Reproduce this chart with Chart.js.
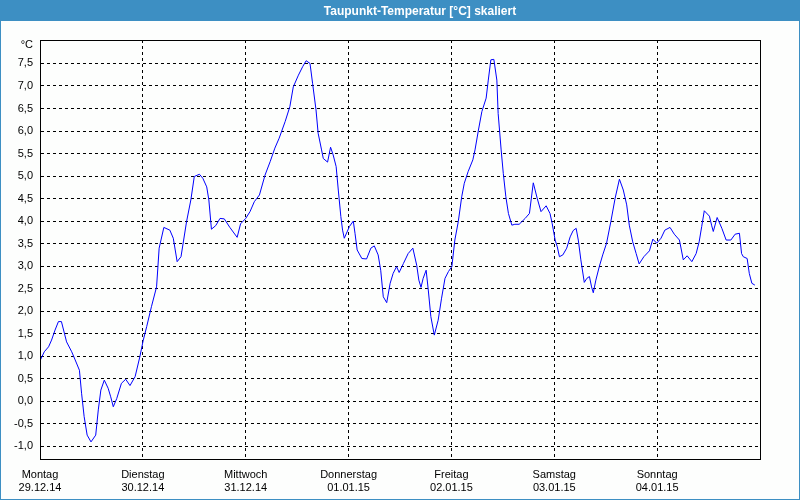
<!DOCTYPE html>
<html><head><meta charset="utf-8">
<script src="https://cdn.jsdelivr.net/npm/chart.js@4/dist/chart.umd.min.js"></script>
<style>html,body{margin:0;padding:0;background:#fff}#wrap{width:800px;height:500px}</style>
</head><body><div id="wrap"><canvas id="c" width="800" height="500"></canvas></div>
<script>
const chartTitle = 'Taupunkt-Temperatur [°C] skaliert';
const unitLabel = '°C';
const dayNames = ['Montag','Dienstag','Mittwoch','Donnerstag','Freitag','Samstag','Sonntag'];
const dayDates = ['29.12.14','30.12.14','31.12.14','01.01.15','02.01.15','03.01.15','04.01.15'];
const yTickValues = [-1,-0.5,0,0.5,1,1.5,2,2.5,3,3.5,4,4.5,5,5.5,6,6.5,7,7.5];
const dayTickHours = [0,24,48,72,96,120,144,168];

// hours since Monday 29.12.14 00:00
const hours = [
  0,1,2,2.7,3.5,4.3,5,6.2,7.4,8.2,9.2,9.7,10.3,11,11.9,13,13.6,14.2,15,15.9,16.5,17.1,17.9,19,20,21,22.2,23.3,
  24.1,24.9,26,27.2,27.8,28.9,30.3,31.1,32,32.9,34.2,35.2,36,37.2,38,38.9,39.4,40,41,42,43,44.3,46,46.8,
  48,49,50,51.2,52.5,53.7,54.8,55.8,57.2,58.3,59.1,60.3,61.3,62.1,63,63.6,64.4,64.9,65.7,66.1,67.1,67.8,68.4,69.1,69.6,70.2,70.6,71,
  72.2,73.1,73.5,74,75.1,76.2,77.2,78,78.9,79.5,80.1,80.9,81.7,82.4,83.2,83.8,84.8,85.9,87,87.9,88.4,88.9,89.4,90.1,90.6,91.2,92,92.9,93.7,94.5,95.3,
  96.1,96.8,97.6,98.4,99,99.9,101,101.5,102.3,103.1,104.1,104.6,105.2,105.9,106.6,106.9,107.6,108.1,108.7,109.3,110.1,110.8,111.8,113.2,114.2,115.1,116,116.9,118.1,119,119.5,
  120.2,120.7,121.2,122,122.9,123.7,124.4,125.1,125.6,126.2,127,127.6,128.2,128.7,129.1,129.7,130.5,131.3,132.2,133.2,134.2,135.2,136.1,136.9,137.5,138.3,139.1,139.8,140.9,142.2,143,143.9,
  144.9,145.8,147,148,149.2,150.1,151,152.1,153.1,153.8,154.4,155,156.2,156.7,157.1,158,159.1,160.1,161.2,162.2,163.2,163.7,164.1,165,165.5,166.1,166.8
];
const dewPoint = [
  0.9,1.1,1.21,1.36,1.58,1.77,1.77,1.32,1.1,0.92,0.69,0.18,-0.34,-0.75,-0.9,-0.75,-0.19,0.25,0.47,0.29,0.1,-0.12,0.06,0.4,0.49,0.35,0.55,0.99,
  1.36,1.66,2.1,2.54,3.4,3.86,3.8,3.62,3.1,3.21,3.99,4.47,4.99,5.04,4.95,4.76,4.47,3.82,3.9,4.06,4.05,3.86,3.64,3.94,
  4.06,4.21,4.43,4.58,5.02,5.32,5.62,5.84,6.21,6.54,6.98,7.24,7.43,7.56,7.5,7.06,6.47,5.95,5.58,5.39,5.31,5.64,5.47,5.21,4.69,4.1,3.8,3.62,
  3.88,4.0,3.73,3.36,3.17,3.16,3.4,3.45,3.25,2.91,2.32,2.19,2.62,2.84,2.99,2.86,3.06,3.28,3.4,3.02,2.69,2.53,2.73,2.91,2.47,1.88,1.47,1.8,2.29,2.73,2.88,
  2.99,3.58,3.99,4.54,4.84,5.1,5.36,5.58,6.02,6.43,6.73,7.13,7.58,7.59,7.13,6.39,5.58,5.06,4.54,4.17,3.91,3.93,3.93,4.06,4.17,4.85,4.51,4.21,4.34,4.17,3.95,
  3.58,3.43,3.21,3.25,3.4,3.65,3.79,3.84,3.58,3.14,2.64,2.73,2.77,2.54,2.41,2.69,2.99,3.25,3.51,3.99,4.51,4.93,4.69,4.36,3.91,3.54,3.28,3.05,3.21,3.34,3.6,3.51,
  3.62,3.8,3.86,3.71,3.58,3.14,3.23,3.1,3.28,3.54,3.88,4.23,4.11,3.91,3.77,4.08,3.84,3.58,3.58,3.71,3.73,3.28,3.21,3.17,2.84,2.62,2.58
];

const UNIT_TICK = 7.91;
const FONT = '"Liberation Sans", Arial, sans-serif';

const framePlugin = {
  id: 'frame',
  beforeDraw(chart) {
    const ctx = chart.ctx;
    ctx.save();
    ctx.fillStyle = '#fdfefd';
    ctx.fillRect(0, 0, 800, 500);
    ctx.fillStyle = '#3d8fc3';
    ctx.fillRect(0, 0, 800, 21);
    ctx.strokeStyle = '#3d8fc3';
    ctx.lineWidth = 1;
    ctx.strokeRect(0.5, 0.5, 799, 499);
    ctx.fillStyle = '#ffffff';
    ctx.font = 'bold 12px ' + FONT;
    ctx.textAlign = 'center';
    ctx.textBaseline = 'alphabetic';
    ctx.fillText(chartTitle, 420, 15);
    ctx.restore();
  },
  afterDraw(chart) {
    const a = chart.chartArea, ctx = chart.ctx;
    ctx.save();
    ctx.strokeStyle = '#000';
    ctx.lineWidth = 1;
    ctx.setLineDash([]);
    ctx.strokeRect(Math.round(a.left) + 0.5, Math.round(a.top) + 0.5, Math.round(a.right - a.left), Math.round(a.bottom - a.top));
    ctx.restore();
  }
};

new Chart(document.getElementById('c'), {
  type: 'line',
  data: {
    datasets: [{
      data: hours.map((h, i) => ({ x: h, y: dewPoint[i] })),
      borderColor: '#0000ff',
      borderWidth: 1,
      pointRadius: 0,
      tension: 0,
      fill: false
    }]
  },
  options: {
    responsive: false,
    animation: false,
    devicePixelRatio: 1,
    layout: { padding: { top: 40, right: 40, left: 0, bottom: 0 } },
    plugins: { legend: { display: false }, tooltip: { enabled: false }, title: { display: false } },
    scales: {
      x: {
        type: 'linear', min: 0, max: 168,
        afterBuildTicks: s => { s.ticks = dayTickHours.map(v => ({ value: v })); },
        afterFit: s => { s.height = 41; },
        ticks: {
          autoSkip: false, maxRotation: 0, minRotation: 0, padding: 9,
          color: '#000', font: { family: FONT, size: 11, lineHeight: 1.2 },
          callback: v => { const i = Math.round(v / 24); return i < 7 ? [dayNames[i], dayDates[i]] : ''; }
        },
        grid: { color: '#000', lineWidth: 1, drawTicks: false },
        border: { display: true, color: '#000', dash: [3, 3] }
      },
      y: {
        type: 'linear', min: -1.28, max: 8.02,
        afterBuildTicks: s => { s.ticks = yTickValues.map(v => ({ value: v })).concat([{ value: UNIT_TICK }]); },
        afterFit: s => { s.width = 40; },
        ticks: {
          padding: 7, color: '#000', font: { family: FONT, size: 11 },
          callback: v => v > 7.6 ? unitLabel : v.toFixed(1).replace('.', ',')
        },
        grid: {
          drawTicks: false, lineWidth: 1,
          color: c => (c.tick && c.tick.value > 7.6) ? 'rgba(0,0,0,0)' : '#000'
        },
        border: { display: true, color: '#000', dash: [3, 3] }
      }
    }
  },
  plugins: [framePlugin]
});
</script>
</body></html>
